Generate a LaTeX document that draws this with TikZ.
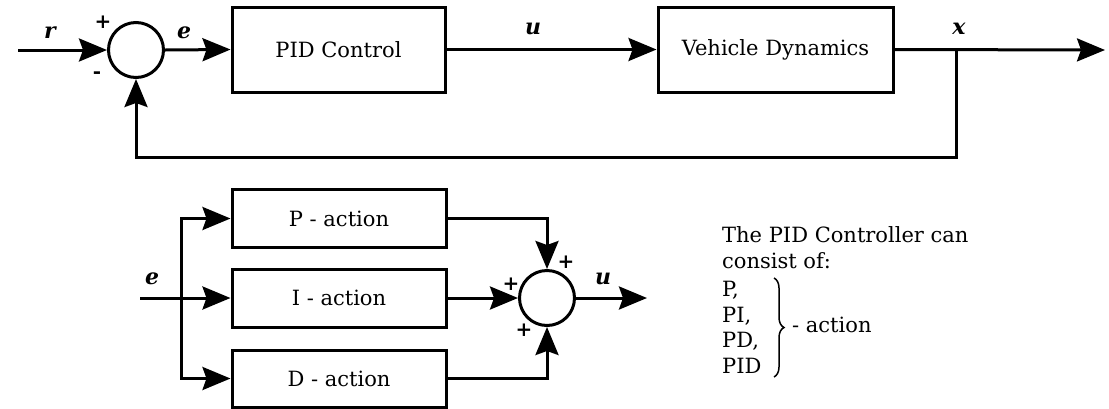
\documentclass[tikz,border=0pt]{standalone}
\usepackage{fontspec}
\setmainfont{DejaVu Serif}
\usetikzlibrary{arrows.meta,decorations.pathreplacing}
\tikzset{
  lw/.style={line width=3pt},
  arr/.style={lw,-{Stealth[length=28pt,width=23pt,inset=4pt]}},
  blk/.style={draw,lw,rectangle,inner sep=0pt,font=\fontsize{21}{25}\selectfont},
  sumc/.style={draw,lw,circle,minimum size=55pt,inner sep=0pt},
  sig/.style={font=\fontsize{22}{25}\selectfont\bfseries\itshape,inner sep=0pt},
  pm/.style={font=\fontsize{20}{24}\selectfont\bfseries,inner sep=0pt},
  txt/.style={font=\fontsize{21}{26}\selectfont,inner sep=0pt,align=left}
}
\begin{document}
\begin{tikzpicture}[x=1pt,y=-1pt]
\useasboundingbox (0,0) rectangle (1109,408);
% top loop
\node[sumc] (s1) at (136,50) {};
\node[blk,minimum width=213pt,minimum height=85pt] (pid) at (338.5,49.5) {PID Control};
\node[blk,minimum width=235pt,minimum height=85pt] (vd) at (775.5,49.5) {Vehicle Dynamics};
\coordinate (rin) at (18,50);
\coordinate (br) at (956,50);
\coordinate (xout) at (1105,50);
\coordinate (fb) at (956,157);
\draw[arr] (rin) -- (s1.west);
\draw[arr] (s1.east) -- (pid.west);
\draw[arr] (pid.east) -- (vd.west);
\draw[arr] (vd.east) -- (xout);
\draw[arr] (br) -- (fb) -| (s1.south);
\node[sig] (lr) at (50,33) {r};
\node[sig] (le) at (184,33) {e};
\node[sig] (lu) at (533,29) {u};
\node[sig] (lx) at (959,29) {x};
\node[pm] (p1) at (103,22) {+};
\node[pm] (m1) at (97,75) {-};
% bottom
\node[blk,minimum width=214pt,minimum height=58pt] (pa) at (339,218.5) {P - action};
\node[blk,minimum width=214pt,minimum height=58pt] (ia) at (339,298) {I - action};
\node[blk,minimum width=214pt,minimum height=57pt] (da) at (339,378.5) {D - action};
\node[sumc] (s2) at (547,298) {};
\coordinate (ein) at (140,298);
\coordinate (sp) at (181,298);
\coordinate (uout) at (647,298);
\draw[arr] (ein) -- (ia.west);
\draw[arr] (sp) |- (pa.west);
\draw[arr] (sp) |- (da.west);
\draw[arr] (pa.east) -| (s2.north);
\draw[arr] (ia.east) -- (s2.west);
\draw[arr] (da.east) -| (s2.south);
\draw[arr] (s2.east) -- (uout);
\node[sig] (le2) at (152,279) {e};
\node[sig] (lu2) at (603,279) {u};
\node[pm] (p2) at (566,262) {+};
\node[pm] (p3) at (511,284) {+};
\node[pm] (p4) at (524,330) {+};
% text
\node[txt,anchor=base west] (t1) at (722,242) {The PID Controller can};
\node[txt,anchor=base west] (t2) at (722,268) {consist of:};
\node[txt,anchor=base west] (l1) at (722,296) {P,};
\node[txt,anchor=base west] (l2) at (722,322) {PI,};
\node[txt,anchor=base west] (l3) at (722,347) {PD,};
\node[txt,anchor=base west] (l4) at (722,373) {PID};
\draw[line width=1.5pt,decorate,decoration={brace,amplitude=10pt}] (774,278) -- (774,377);
\node[txt,anchor=base west] (act) at (792,332) {- action};
\end{tikzpicture}
\end{document}
